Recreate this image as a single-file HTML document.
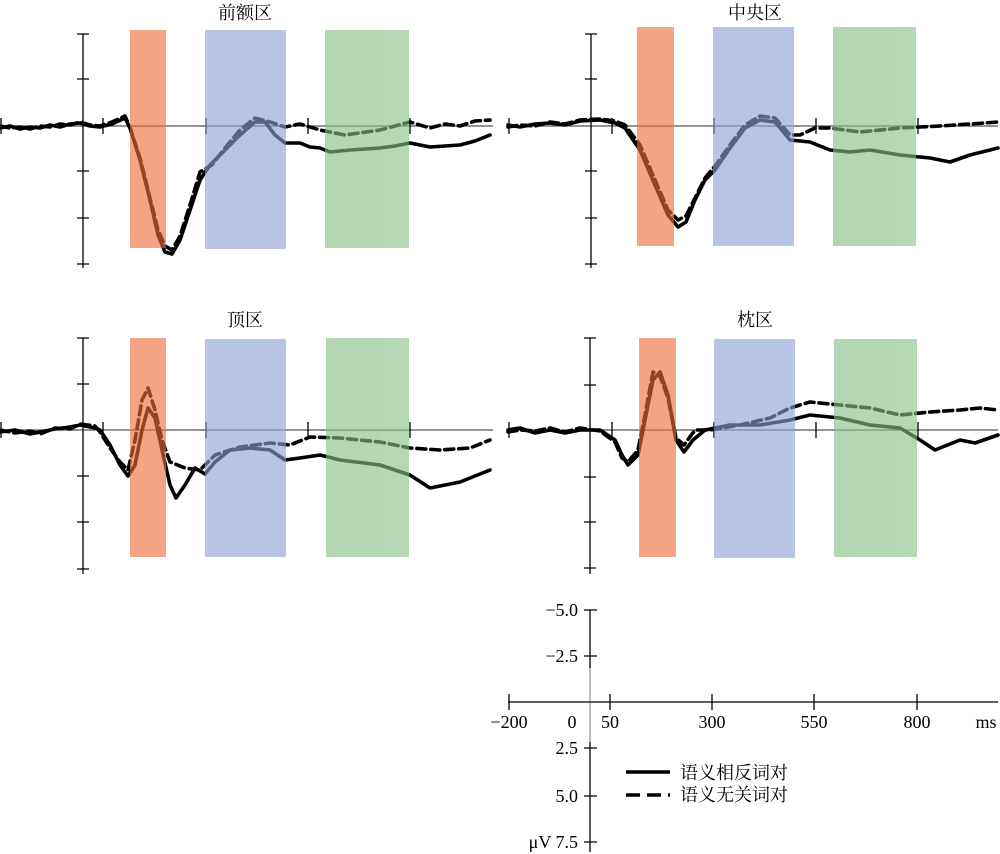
<!DOCTYPE html>
<html><head><meta charset="utf-8"><style>
body{margin:0;background:#fff}
svg{display:block}
text{font-family:"Liberation Serif","Noto Serif CJK SC",serif;fill:#000}
.w{fill:none;stroke:#000;stroke-width:3.6;stroke-linejoin:round;stroke-linecap:round}
.d{stroke-dasharray:9 5}
.ax{stroke:#000;stroke-width:1.3;fill:none}
.z{stroke:#555;stroke-width:1.3}
</style></head><body>
<svg width="1000" height="854" viewBox="0 0 1000 854" xmlns="http://www.w3.org/2000/svg">
<g font-size="18">
<text x="245" y="19" text-anchor="middle">前额区</text>
<text x="755" y="19" text-anchor="middle">中央区</text>
<text x="245" y="326" text-anchor="middle">顶区</text>
<text x="755" y="326" text-anchor="middle">枕区</text>
</g>

<g>
<line class="z" x1="0" y1="126" x2="493" y2="126"/>
<path class="ax" d="M83 34V268M77 34H89M77 79H89M77 171H89M77 218H89M77 264H89M1 118V134M103 118V134M206 118V134M308 118V134M410 118V134"/>
</g>
<g>
<line class="z" x1="508" y1="126" x2="998" y2="126"/>
<path class="ax" d="M591 34V268M585 34H597M585 79H597M585 171H597M585 218H597M585 264H597M509 118V134M612 118V134M714 118V134M816 118V134M918 118V134"/>
</g>
<g>
<line class="z" x1="0" y1="430" x2="493" y2="430"/>
<path class="ax" d="M83 338V574M77 338H89M77 384H89M77 476H89M77 522H89M77 569H89M1 422V438M103 422V438M206 422V438M308 422V438M410 422V438"/>
</g>
<g>
<line class="z" x1="508" y1="430" x2="998" y2="430"/>
<path class="ax" d="M590 338V574M584 338H596M584 385H596M584 477H596M584 522H596M584 568H596M509 422V438M612 422V438M714 422V438M816 422V438M918 422V438"/>
</g>

<path class="w" d="M0,128 L10,126 20,129 30,127 40,128 50,125 60,127 70,124 80,123 90,126 100,127 112,124 125,118 130,128 140,160 150,200 158,235 165,252 172,254 180,240 190,210 200,180 210,165 225,150 240,135 255,122 265,122 275,135 285,143 300,143 310,147 320,148 330,152 350,150 365,149 380,148 395,146 410,143 430,147 445,146 460,145 475,141 490,135"/>
<path class="w d" d="M0,126 L10,128 20,127 30,129 40,126 50,127 60,124 70,125 80,122 90,125 100,126 112,122 125,116 130,128 140,158 150,198 158,230 165,246 172,250 180,236 190,205 200,172 212,165 225,148 240,130 255,118 270,122 285,127 300,124 320,130 345,135 380,130 410,122 430,128 445,124 460,126 475,121 490,120"/>
<path class="w" d="M508,125 L520,127 535,124 550,123 565,125 580,121 600,120 615,123 625,128 640,150 655,185 668,215 678,227 686,222 695,200 705,180 715,170 730,148 745,128 760,120 775,122 790,140 810,142 830,150 850,152 870,150 900,155 930,158 950,162 970,155 998,148"/>
<path class="w d" d="M508,127 L520,125 535,126 550,122 565,124 580,120 600,119 615,121 625,125 640,145 655,180 668,210 678,220 686,216 695,198 705,178 715,166 730,145 745,125 760,116 775,118 790,135 800,135 815,128 830,128 860,132 900,128 940,126 970,124 998,122"/>
<path class="w" d="M0,432 L15,430 30,434 40,432 55,429 70,427 80,425 95,428 100,430 110,445 120,465 128,476 135,465 142,430 148,408 155,418 162,450 170,485 176,498 185,485 195,468 205,474 215,462 230,450 250,448 270,450 285,460 300,458 320,455 340,460 380,465 410,475 430,488 460,482 490,470"/>
<path class="w d" d="M0,430 L15,433 30,431 40,434 55,428 70,429 80,424 95,426 100,432 110,448 120,462 128,470 135,440 142,400 148,388 155,410 162,440 170,462 185,468 200,470 215,455 240,447 270,443 290,445 310,437 340,438 380,442 410,448 440,450 470,448 490,440"/>
<path class="w" d="M508,430 L520,428 535,433 550,430 565,433 580,430 600,430 615,440 622,455 628,465 638,455 645,420 653,380 660,372 668,395 676,440 684,452 693,440 705,430 730,425 760,425 790,420 810,415 840,418 870,425 900,428 920,440 935,450 960,440 975,443 998,435"/>
<path class="w d" d="M508,432 L520,430 535,431 550,428 565,432 580,428 600,431 615,442 622,458 628,462 638,450 645,415 653,372 660,376 668,398 676,438 684,445 695,430 710,430 740,425 770,418 790,408 810,402 840,405 870,408 900,415 930,412 960,410 980,408 998,410"/>

<g opacity="0.62">
<rect x="130" y="30" width="36" height="218" fill="#ec6d3a"/>
<rect x="205" y="30" width="81" height="219" fill="#8da1d6"/>
<rect x="325" y="30" width="84" height="218" fill="#86c086"/>
<rect x="637" y="27" width="37" height="219" fill="#ec6d3a"/>
<rect x="713" y="27" width="81" height="219" fill="#8da1d6"/>
<rect x="833" y="27" width="83" height="219" fill="#86c086"/>
<rect x="130" y="338" width="36" height="219" fill="#ec6d3a"/>
<rect x="205" y="339" width="81" height="218" fill="#8da1d6"/>
<rect x="326" y="338" width="83" height="219" fill="#86c086"/>
<rect x="639" y="338" width="37" height="219" fill="#ec6d3a"/>
<rect x="714" y="339" width="81" height="219" fill="#8da1d6"/>
<rect x="834" y="339" width="83" height="218" fill="#86c086"/>
</g>

<line x1="590" y1="668" x2="590" y2="742" stroke="#999" stroke-width="1.3"/>
<path class="ax" d="M590 610V668M590 742V852M584 610H597M584 656H597M584 748H597M584 796H597M584 842H597M508 702H998M509 694V710M610 694V710M712 694V710M814 694V710M917 694V710"/>
<g font-size="18">
<text x="578" y="616" text-anchor="end">−5.0</text>
<text x="578" y="662" text-anchor="end">−2.5</text>
<text x="578" y="754" text-anchor="end">2.5</text>
<text x="578" y="802" text-anchor="end">5.0</text>
<text x="578" y="848" text-anchor="end">μV 7.5</text>
<text x="509" y="728" text-anchor="middle">−200</text>
<text x="572" y="728" text-anchor="middle">0</text>
<text x="610" y="728" text-anchor="middle">50</text>
<text x="712" y="728" text-anchor="middle">300</text>
<text x="814" y="728" text-anchor="middle">550</text>
<text x="917" y="728" text-anchor="middle">800</text>
<text x="986" y="728" text-anchor="middle">ms</text>
<text x="680" y="779">语义相反词对</text>
<text x="680" y="801">语义无关词对</text>
</g>
<line x1="626" y1="772" x2="670" y2="772" stroke="#000" stroke-width="3.5"/>
<line x1="626" y1="795" x2="670" y2="795" stroke="#000" stroke-width="3.5" stroke-dasharray="14 7"/>
</svg>
</body></html>
